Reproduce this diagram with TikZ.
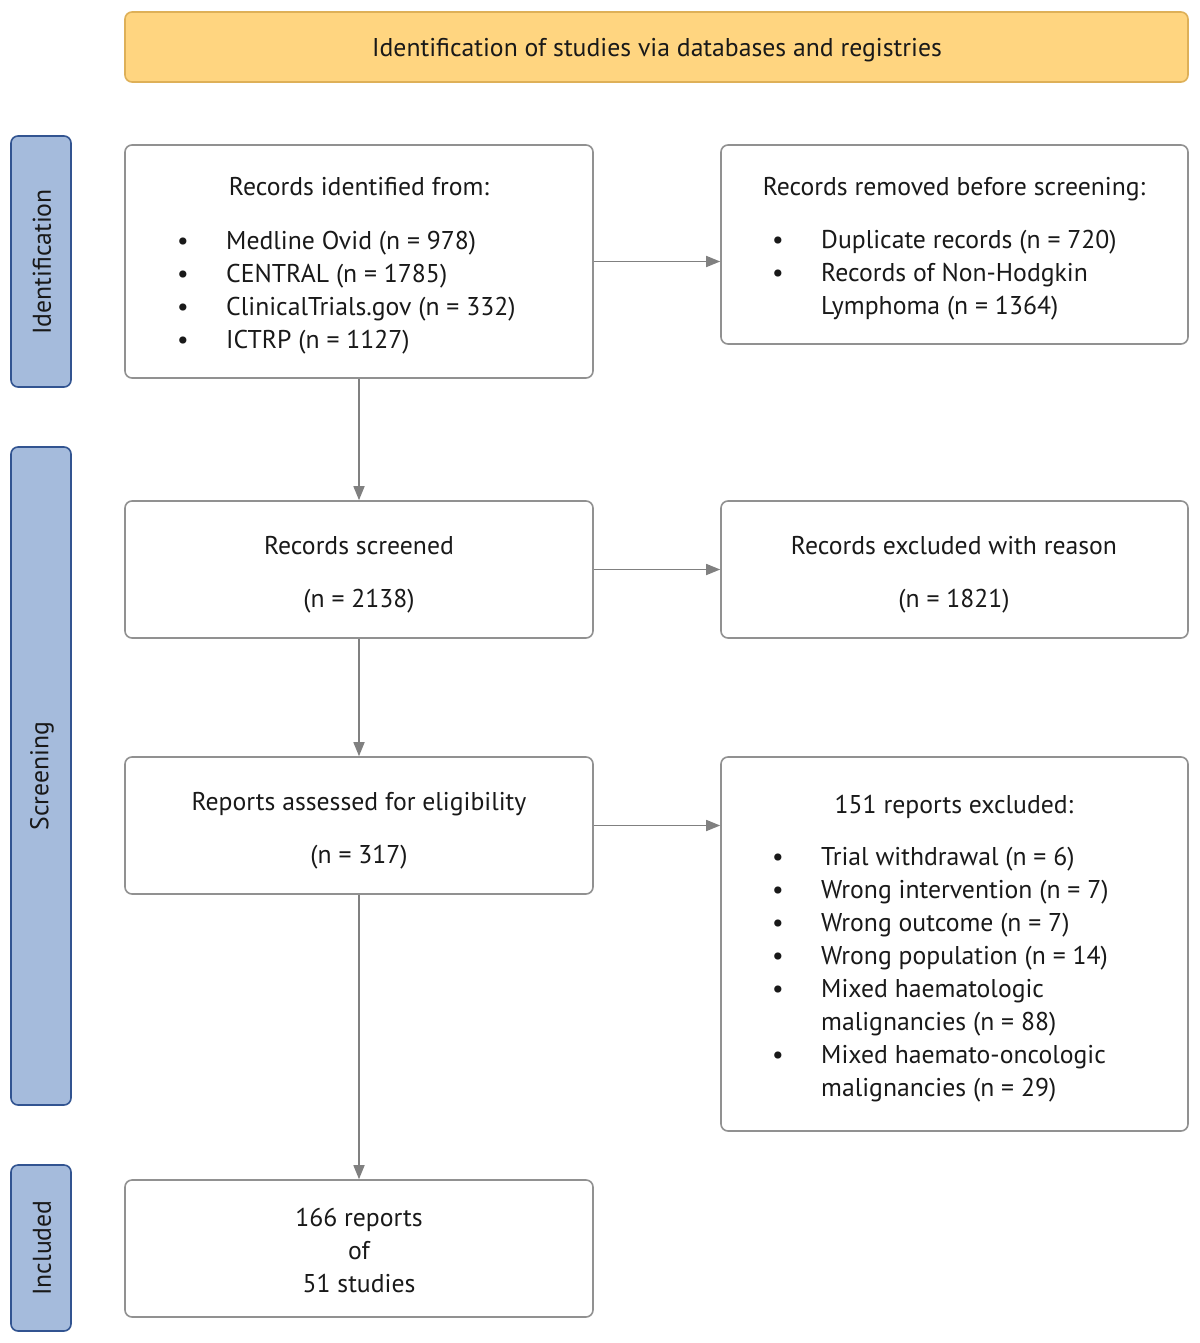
\documentclass[tikz,border=0pt]{standalone}
\usepackage{fontspec}
\setmainfont{PT Sans}
\usetikzlibrary{arrows.meta}
\definecolor{bannerfill}{RGB}{255,213,128}
\definecolor{bannerdraw}{RGB}{222,176,88}
\definecolor{sidefill}{RGB}{165,187,220}
\definecolor{sidedraw}{RGB}{50,84,145}
\definecolor{boxdraw}{RGB}{145,145,145}
\definecolor{arrowcol}{RGB}{128,128,128}
\definecolor{txt}{RGB}{25,25,25}
\begin{document}
\begin{tikzpicture}[x=1pt,y=-1pt,
  every node/.style={text=txt,font=\fontsize{25.7}{30}\selectfont},
  banner/.style={draw=bannerdraw,fill=bannerfill,line width=1.6pt,rounded corners=7pt},
  sidebox/.style={draw=sidedraw,fill=sidefill,line width=1.6pt,rounded corners=7pt},
  flowbox/.style={draw=boxdraw,fill=white,line width=1.6pt,rounded corners=7pt},
  conn/.style={draw=arrowcol,line width=1.6pt,-{Triangle[length=14pt,width=11pt]}},
  lbl/.style={inner sep=0pt,anchor=base,yshift=-9pt},
  itm/.style={inner sep=0pt,anchor=base west,yshift=-9pt},
  bul/.style={inner sep=0pt,anchor=base,yshift=-9pt},
  vlbl/.style={inner sep=0pt,anchor=center,rotate=90}
]
\useasboundingbox (0,0) rectangle (1199,1343);
% banner
\draw[banner] (125,12) rectangle (1188,82);
\node[lbl] (bantxt) at (657,48) {Identification of studies via databases and registries};
% side labels
\draw[sidebox] (11,136) rectangle (71,387);
\node[vlbl] (sid) at (42,262) {Identification};
\draw[sidebox] (11,447) rectangle (71,1105);
\node[vlbl] (sscr) at (42,776) {Screening};
\draw[sidebox] (11,1165) rectangle (71,1331);
\node[vlbl] (sinc) at (42,1248) {Included};
% boxes
\node[flowbox,minimum width=468pt,minimum height=233pt] (b1) at (359,261.5) {};
\node[flowbox,minimum width=467pt,minimum height=199pt] (b2) at (954.5,244.5) {};
\node[flowbox,minimum width=468pt,minimum height=137pt] (b3) at (359,569.5) {};
\node[flowbox,minimum width=467pt,minimum height=137pt] (b4) at (954.5,569.5) {};
\node[flowbox,minimum width=468pt,minimum height=137pt] (b5) at (359,825.5) {};
\node[flowbox,minimum width=467pt,minimum height=374pt] (b6) at (954.5,944) {};
\node[flowbox,minimum width=468pt,minimum height=137pt] (b7) at (359,1248.5) {};
% box 1 text
\node[lbl] (t1) at (359,187) {Records identified from:};
\foreach \y/\t [count=\i] in {240/{Medline Ovid (n = 978)},273/{CENTRAL (n = 1785)},306/{ClinicalTrials.gov (n = 332)},339/{ICTRP (n = 1127)}}{
  \node[bul] (b1b\i) at (183,\y) {\textbullet};
  \node[itm] (b1t\i) at (226,\y) {\t};
}
% box 2 text
\node[lbl] (t2) at (954,187) {Records removed before screening:};
\node[bul] (b2b1) at (778,239) {\textbullet};
\node[itm] (b2t1) at (821,239) {Duplicate records (n = 720)};
\node[bul] (b2b2) at (778,272) {\textbullet};
\node[itm] (b2t2) at (821,272) {Records of Non-Hodgkin};
\node[itm] (b2t3) at (821,305) {Lymphoma (n = 1364)};
% box 3
\node[lbl] (t3a) at (359,545) {Records screened};
\node[lbl] (t3b) at (359,598) {(n = 2138)};
% box 4
\node[lbl] (t4a) at (954,545) {Records excluded with reason};
\node[lbl] (t4b) at (954,598) {(n = 1821)};
% box 5
\node[lbl] (t5a) at (359,801) {Reports assessed for eligibility};
\node[lbl] (t5b) at (359,854) {(n = 317)};
% box 6
\node[lbl] (t6) at (954,804) {151 reports excluded:};
\foreach \y [count=\i] in {856,889,922,955,988,1054}{
  \node[bul] (b6b\i) at (778,\y) {\textbullet};
}
\node[itm] (b6t1) at (821,856) {Trial withdrawal (n = 6)};
\node[itm] (b6t2) at (821,889) {Wrong intervention (n = 7)};
\node[itm] (b6t3) at (821,922) {Wrong outcome (n = 7)};
\node[itm] (b6t4) at (821,955) {Wrong population (n = 14)};
\node[itm] (b6t5) at (821,988) {Mixed haematologic};
\node[itm] (b6t6) at (821,1021) {malignancies (n = 88)};
\node[itm] (b6t7) at (821,1054) {Mixed haemato-oncologic};
\node[itm] (b6t8) at (821,1087) {malignancies (n = 29)};
% box 7
\node[lbl] (t7a) at (359,1217) {166 reports};
\node[lbl] (t7b) at (359,1250) {of};
\node[lbl] (t7c) at (359,1283) {51 studies};
% connectors
\draw[conn] (b1.south) -- (b3.north);
\draw[conn] (b3.south) -- (b5.north);
\draw[conn] (b5.south) -- (b7.north);
\draw[conn] (b1.east) -- (b1.east -| b2.west);
\draw[conn] (b3.east) -- (b4.west);
\draw[conn] (b5.east) -- (b5.east -| b6.west);
\end{tikzpicture}
\end{document}
